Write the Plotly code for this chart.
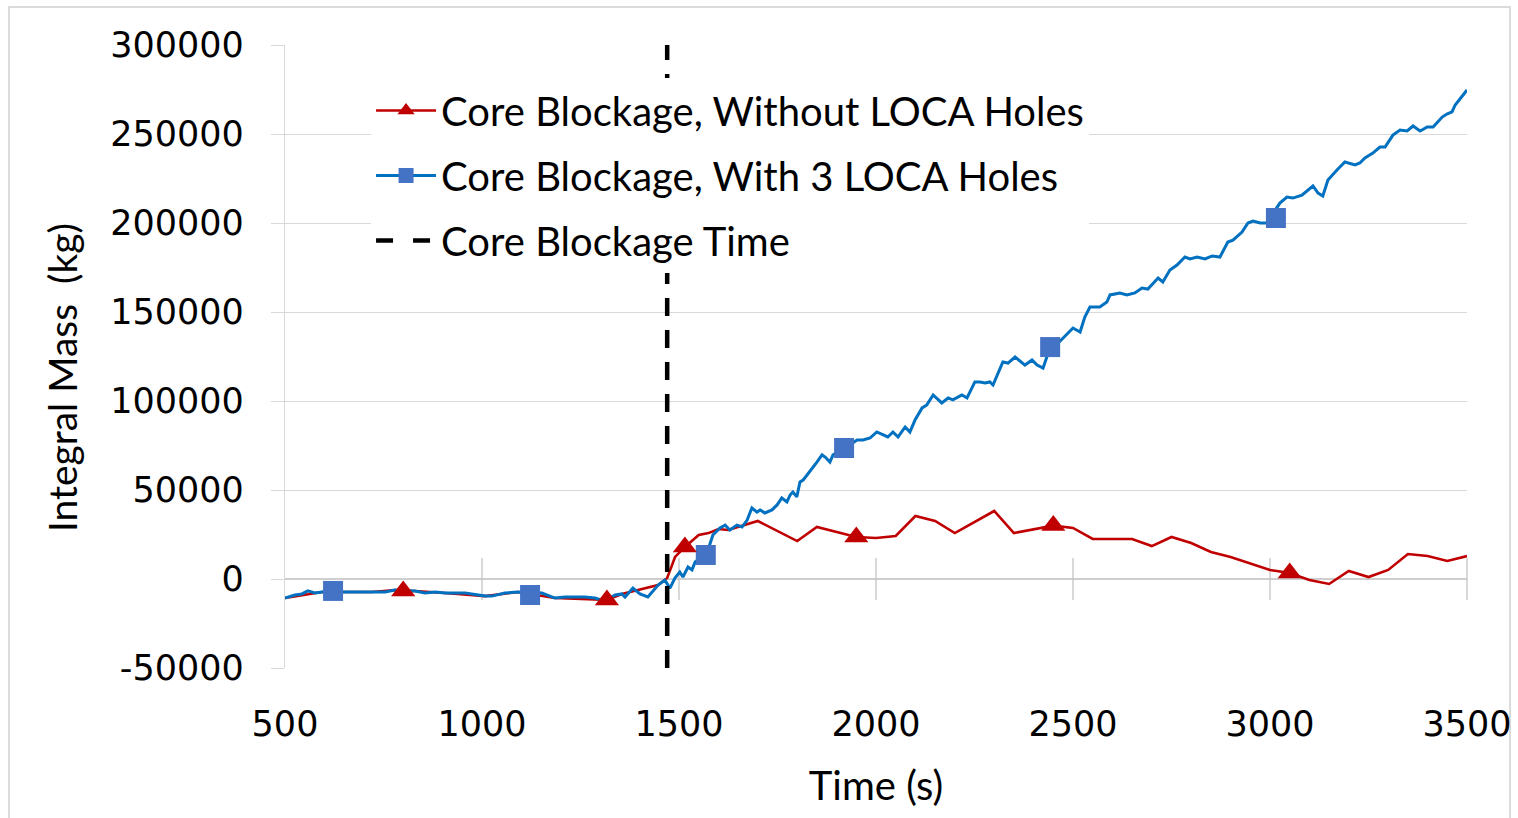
import plotly.graph_objects as go

# blue: core blockage with 3 LOCA holes (line data)
blue_t = [500, 525, 543, 558, 576, 594, 670, 721, 754, 779, 830, 855, 881, 906, 957,
          1008, 1025, 1058, 1091, 1152, 1185, 1211, 1236, 1261, 1287, 1312, 1338, 1355,
          1363, 1383, 1401, 1421, 1447, 1464, 1477, 1490, 1502, 1510, 1523, 1533, 1541,
          1571, 1586, 1604, 1617, 1629, 1647, 1660, 1673, 1685, 1698, 1706, 1718, 1736,
          1749, 1761, 1774, 1782, 1789, 1799, 1807, 1815, 1825, 1840, 1850, 1863, 1871,
          1883, 1891, 1914, 1952, 1967, 1985, 2002, 2018, 2030, 2043, 2056, 2074, 2086,
          2099, 2117, 2129, 2145, 2167, 2183, 2195, 2218, 2231, 2251, 2264, 2277, 2289,
          2297, 2322, 2335, 2353, 2378, 2396, 2409, 2424, 2437, 2475, 2500, 2518, 2530,
          2543, 2568, 2586, 2594, 2619, 2637, 2657, 2675, 2690, 2716, 2728, 2746, 2764,
          2784, 2797, 2815, 2835, 2853, 2873, 2893, 2906, 2929, 2944, 2957, 2975, 2992,
          3025, 3043, 3058, 3076, 3081, 3109, 3122, 3134, 3147, 3170, 3190, 3216, 3228,
          3241, 3261, 3279, 3292, 3312, 3330, 3348, 3363, 3381, 3399, 3414, 3437, 3449,
          3462, 3470, 3500]
blue_m = [-10700, -9000, -8400, -6700, -7900, -7300, -7300, -7300, -7300, -6200, -6700,
          -7900, -7300, -7900, -7900, -9600, -9600, -7900, -7300, -7900, -10700, -10100,
          -10100, -10100, -10700, -12400, -9000, -8400, -10100, -5100, -8400, -10100,
          -3400, -600, -5100, 600, 3900, 1100, 6700, 5100, 9600,
          14600, 24700, 28700, 30300, 27500, 30300, 29200, 33100, 39900, 37600, 38800,
          37100, 38800, 41600, 45500, 43300, 47200, 48900, 46100, 54500, 55600, 58400,
          62400, 65700, 69700, 68500, 65700, 69700, 72500, 78100, 78100, 79200, 82600,
          80900, 79800, 82600, 79800, 85400, 82600, 89300, 96100, 97800, 103400, 98900,
          101700, 100600, 103400, 101700, 110700, 110700, 110100, 110700, 109000, 121900,
          121300, 124700, 120200, 123000, 120200, 118500, 127000, 135400, 141000, 138800,
          147200, 152800, 152800, 155600, 159600, 160700, 159600, 160700, 163500, 162900,
          169100, 166900, 173600, 176400, 180900, 179800, 180900, 179800, 181500, 180900,
          189300, 190400, 194900, 200000, 201100, 200000, 200000, 211200, 214600, 214000,
          215200, 215700, 220800, 216800, 215200, 224200, 229800, 234300, 232600, 233700,
          236500, 239300, 242700, 242700, 249400, 252200, 251700, 254500, 251700, 253900,
          253900, 259500, 261200, 262400, 266300, 274700]
blue_mark_t = [622, 1122, 1568, 1919, 2442, 3015]
blue_mark_m = [-6700, -9000, 13500, 73600, 130300, 202800]

# red: core blockage without LOCA holes
red_t = [500, 594, 721, 779, 800, 830, 906, 1008, 1091, 1185, 1317, 1355, 1447, 1470,
         1490, 1515, 1550, 1575, 1600, 1625, 1700, 1800, 1850, 1950, 2000, 2050, 2100,
         2150, 2200, 2300, 2350, 2450, 2500, 2550, 2650, 2700, 2750, 2800, 2850, 2900,
         3000, 3050, 3100, 3150, 3200, 3250, 3300, 3350, 3400, 3450, 3500]
red_m = [-10700, -7300, -7300, -6200, -6700, -6700, -7900, -9600, -7300, -10700, -11800,
         -8400, -3400, 600, 12400, 18000, 24700, 25800, 28100, 27500, 32600, 21300, 29200,
         23600, 23000, 24200, 35400, 32600, 25800, 38200, 25800, 30000, 28700, 22500,
         22500, 18500, 23600, 20200, 15200, 12400, 5100, 3400, -600, -2800, 4500, 1100,
         5100, 14000, 12900, 10100, 12900]
red_mark_t = [800, 1317, 1515, 1950, 2450, 3050]
red_mark_m = [-6700, -11800, 18000, 23600, 30000, 3400]

blockage_time = 1470
x_ticks = [500, 1000, 1500, 2000, 2500, 3000, 3500]
y_ticks = [-50000, 0, 50000, 100000, 150000, 200000, 250000, 300000]
y_labels = [str(v) for v in y_ticks]

RED = '#C00000'
BLUE_LINE = '#0070C0'
BLUE_MARK = '#4472C4'
GRID = '#d9d9d9'
TICK = '#c4c4c4'
TXT = 'Lato, sans-serif'
NUM = 'DejaVu Sans, Verdana, sans-serif'

fig = go.Figure()

# cross ticks on the zero line
fig.add_trace(go.Scatter(x=x_ticks[1:], y=[0] * (len(x_ticks) - 1), mode='markers',
                         marker=dict(symbol='line-ns-open', size=30, color=TICK,
                                     line=dict(color=TICK, width=1.3)),
                         cliponaxis=False, showlegend=False, hoverinfo='skip'))

fig.add_trace(go.Scatter(x=red_t, y=red_m, mode='lines',
                         line=dict(color=RED, width=2.6),
                         showlegend=False))
fig.add_trace(go.Scatter(x=blue_t, y=blue_m, mode='lines',
                         line=dict(color=BLUE_LINE, width=3),
                         showlegend=False))
fig.add_trace(go.Scatter(x=blue_mark_t, y=blue_mark_m, mode='markers',
                         marker=dict(symbol='square', size=20, color=BLUE_MARK),
                         showlegend=False))
fig.add_trace(go.Scatter(x=red_mark_t, y=red_mark_m, mode='markers',
                         marker=dict(symbol='triangle-up', size=21, color=RED),
                         showlegend=False))

# legend entries
fig.add_trace(go.Scatter(x=[None], y=[None], mode='lines+markers',
                         name='Core Blockage, Without LOCA Holes', legendgroup='a',
                         line=dict(color=RED, width=2.6),
                         marker=dict(symbol='triangle-up', size=15, color=RED)))
fig.add_trace(go.Scatter(x=[None], y=[None], mode='lines+markers',
                         name='Core Blockage, With 3 LOCA Holes', legendgroup='b',
                         line=dict(color=BLUE_LINE, width=3),
                         marker=dict(symbol='square', size=15, color=BLUE_MARK)))
fig.add_trace(go.Scatter(x=[None], y=[None], mode='lines',
                         name='Core Blockage Time', legendgroup='c',
                         line=dict(color='black', width=4.5, dash='17px,20px')))

fig.add_vline(x=blockage_time, line=dict(color='black', width=4.5, dash='18px,14px'))

# outer frame of the chart
fig.add_shape(type='rect', xref='paper', yref='paper',
              x0=-0.2335, x1=1.0364, y0=-0.3, y1=1.061,
              line=dict(color='#d0d0d0', width=1.5), layer='below')

fig.add_annotation(text='Integral Mass  (kg)', textangle=-90, xref='paper', yref='paper',
                   x=-0.1887, y=0.467, xanchor='center', yanchor='middle',
                   showarrow=False, font=dict(family=TXT, size=39, color='black'))

fig.update_layout(
    width=1518, height=818,
    margin=dict(l=285, r=51, t=45, b=150, autoexpand=False),
    paper_bgcolor='white', plot_bgcolor='white',
    legend=dict(x=0.0728, y=0.947, xanchor='left', yanchor='top',
                bgcolor='white', font=dict(family=TXT, size=40, color='black'),
                itemwidth=60, tracegroupgap=10),
    xaxis=dict(range=[500, 3500], tickvals=x_ticks, showgrid=False, zeroline=False,
               showline=False, ticks='', ticklabelstandoff=32, ticklabeloverflow='allow',
               automargin=False,
               tickfont=dict(family=NUM, size=35, color='black'),
               title=dict(text='Time (s)', font=dict(family=TXT, size=40, color='black'),
                          standoff=28)),
    yaxis=dict(range=[-50000, 300000], tickvals=y_ticks, ticktext=y_labels,
               showgrid=True, gridcolor=GRID, automargin=False,
               gridwidth=1.3, zeroline=True, zerolinecolor='#cfcfcf', zerolinewidth=1.6,
               showline=True, linecolor=GRID, linewidth=1.3,
               ticks='outside', ticklen=13, tickcolor=GRID, tickwidth=1.3,
               ticklabelstandoff=20,
               tickfont=dict(family=NUM, size=35, color='black')),
)

# drop the page's default body margin so the figure sits at the window corner
fig.write_html("out.html", config={'displayModeBar': False},
               post_script="document.body.style.margin='0';document.body.style.overflow='hidden';")
